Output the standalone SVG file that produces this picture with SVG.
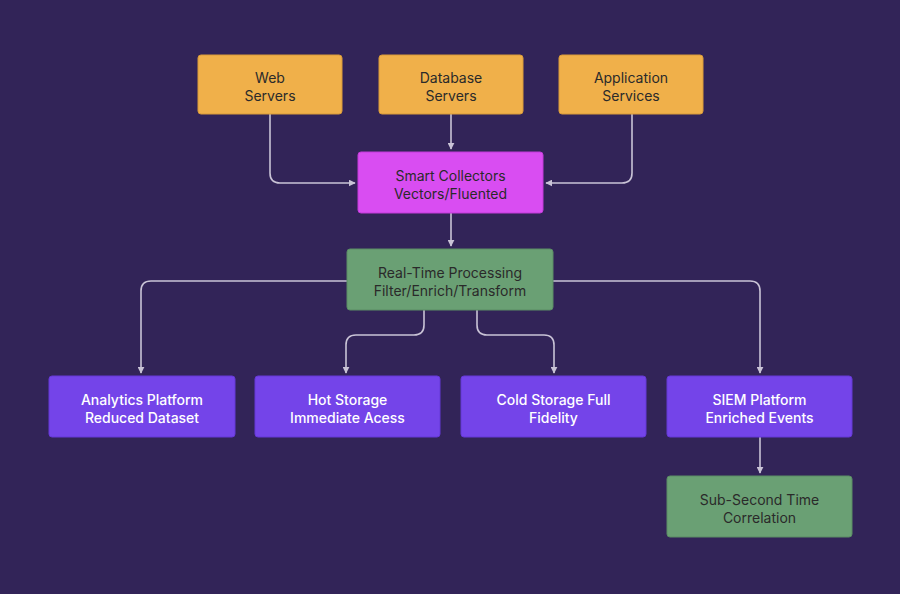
<svg xmlns="http://www.w3.org/2000/svg" width="900" height="594" viewBox="0 0 900 594">
<defs>
<style>
.bg{fill:#322458}
.src rect{fill:#F0B04A;stroke:#d99a38;stroke-width:1}
.col rect{fill:#D94DF2;stroke:#c23ad9;stroke-width:1}
.grn rect{fill:#6AA074;stroke:#5a8c64;stroke-width:1}
.pur rect{fill:#7444E9;stroke:#6538d6;stroke-width:1}
text{font-family:Inter,"Noto Sans","Liberation Sans",sans-serif;font-size:14px;text-anchor:middle}
.src text,.col text,.grn text{fill:#2a2a2a}
.pur text{fill:#ffffff;font-weight:500}
.edge{fill:none;stroke:#c9c3d6;stroke-width:1.6}
</style>
<marker id="ah" viewBox="0 0 10 10" refX="9" refY="5" markerWidth="7" markerHeight="7" orient="auto" markerUnits="userSpaceOnUse">
<path d="M0,0 L10,5 L0,10 z" fill="#c9c3d6"/>
</marker>
</defs>
<rect class="bg" x="0" y="0" width="900" height="594"/>
<g id="connectors">
<path class="edge" marker-end="url(#ah)" d="M270,114 V173 Q270,183 280,183 H355"/>
<path class="edge" marker-end="url(#ah)" d="M451,114 V149"/>
<path class="edge" marker-end="url(#ah)" d="M632,114 V173 Q632,183 622,183 H546"/>
<path class="edge" marker-end="url(#ah)" d="M451,213 V246"/>
<path class="edge" marker-end="url(#ah)" d="M347,281 H151 Q141,281 141,291 V373"/>
<path class="edge" marker-end="url(#ah)" d="M553,281 H750 Q760,281 760,291 V373"/>
<path class="edge" marker-end="url(#ah)" d="M424,310 V325 Q424,335 414,335 H356 Q346,335 346,345 V373"/>
<path class="edge" marker-end="url(#ah)" d="M477,310 V325 Q477,335 487,335 H544 Q554,335 554,345 V373"/>
<path class="edge" marker-end="url(#ah)" d="M760,437 V473"/>
</g>
<g id="web" class="src"><rect x="198" y="55" width="144" height="59" rx="3"/><text x="270" y="83">Web</text><text x="270" y="101">Servers</text></g>
<g id="db" class="src"><rect x="379" y="55" width="144" height="59" rx="3"/><text x="451" y="83">Database</text><text x="451" y="101">Servers</text></g>
<g id="app" class="src"><rect x="559" y="55" width="144" height="59" rx="3"/><text x="631" y="83">Application</text><text x="631" y="101">Services</text></g>
<g id="collectors" class="col"><rect x="358" y="152" width="185" height="61" rx="3"/><text x="450.5" y="181">Smart Collectors</text><text x="450.5" y="199">Vectors/Fluented</text></g>
<g id="processing" class="grn"><rect x="347" y="249" width="206" height="61" rx="3"/><text x="450" y="278">Real-Time Processing</text><text x="450" y="296">Filter/Enrich/Transform</text></g>
<g id="analytics" class="pur"><rect x="49" y="376" width="186" height="61" rx="3"/><text x="142" y="405">Analytics Platform</text><text x="142" y="423">Reduced Dataset</text></g>
<g id="hot" class="pur"><rect x="255" y="376" width="185" height="61" rx="3"/><text x="347.5" y="405">Hot Storage</text><text x="347.5" y="423">Immediate Acess</text></g>
<g id="cold" class="pur"><rect x="461" y="376" width="185" height="61" rx="3"/><text x="553.5" y="405">Cold Storage Full</text><text x="553.5" y="423">Fidelity</text></g>
<g id="siem" class="pur"><rect x="667" y="376" width="185" height="61" rx="3"/><text x="759.5" y="405">SIEM Platform</text><text x="759.5" y="423">Enriched Events</text></g>
<g id="correlation" class="grn"><rect x="667" y="476" width="185" height="61" rx="3"/><text x="759.5" y="505">Sub-Second Time</text><text x="759.5" y="523">Correlation</text></g>
</svg>
